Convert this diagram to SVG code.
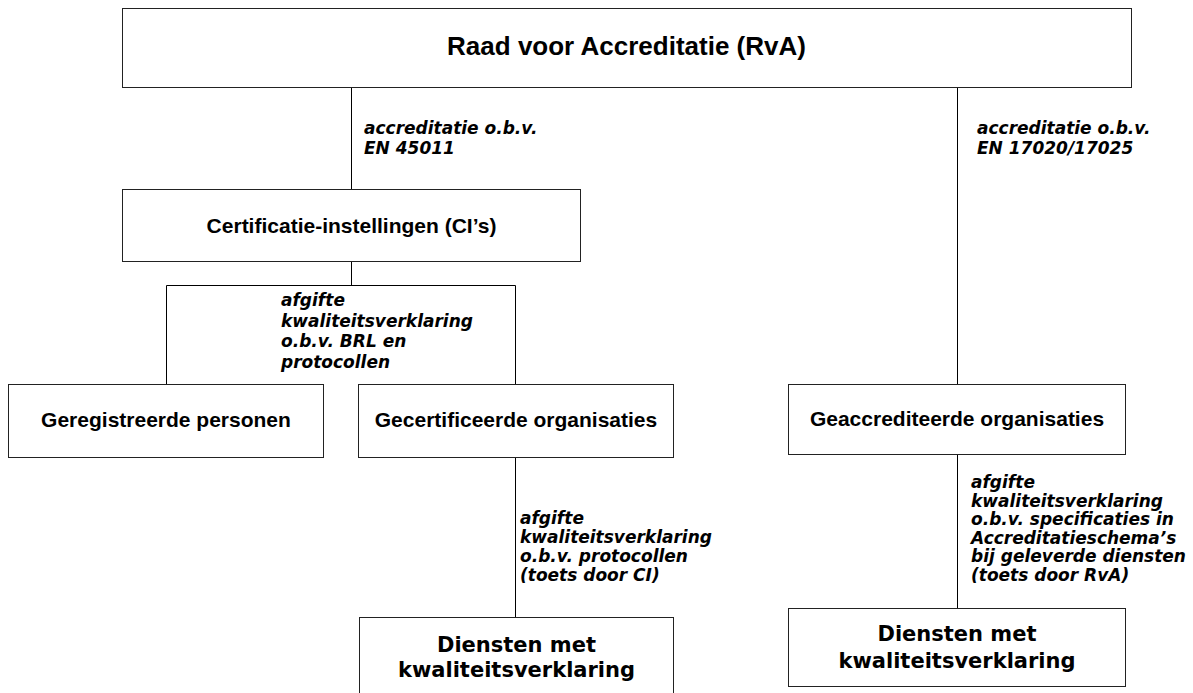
<svg xmlns="http://www.w3.org/2000/svg" width="1193" height="693" viewBox="0 0 1193 693">
<style>
.box{fill:#fff;stroke:#222;stroke-width:1}
.con{fill:none;stroke:#000;stroke-width:1}
.t{font-family:"Liberation Sans",Arial,sans-serif;font-weight:bold;font-size:21px;fill:#000;text-anchor:middle}
.tt{font-family:"Liberation Sans",Arial,sans-serif;font-weight:bold;font-size:26px;fill:#000;text-anchor:middle}
.v{font-family:"DejaVu Sans",Verdana,sans-serif;font-weight:bold;font-size:21px;fill:#000;text-anchor:middle}
.lab{font-family:"DejaVu Sans",Verdana,sans-serif;font-weight:bold;font-style:italic;font-size:17px;fill:#000}
</style>
<rect width="1193" height="693" fill="#fff"/>
<g id="connectors">
<path class="con" d="M351.5,88 V189"/>
<path class="con" d="M351.5,262 V285"/>
<path class="con" d="M166.5,384 V285.5 H515.5 V384"/>
<path class="con" d="M515.5,458 V617"/>
<path class="con" d="M957.5,88 V384"/>
<path class="con" d="M957.5,455 V608"/>
</g>
<g id="labels">
<text class="lab" x="364" y="134">accreditatie o.b.v.</text>
<text class="lab" x="364" y="154">EN 45011</text>
<text class="lab" x="977" y="134">accreditatie o.b.v.</text>
<text class="lab" x="977" y="154">EN 17020/17025</text>
<text class="lab" x="281" y="306">afgifte</text>
<text class="lab" x="281" y="326.5">kwaliteitsverklaring</text>
<text class="lab" x="281" y="347">o.b.v. BRL en</text>
<text class="lab" x="281" y="367.5">protocollen</text>
<text class="lab" x="520" y="524">afgifte</text>
<text class="lab" x="520" y="543">kwaliteitsverklaring</text>
<text class="lab" x="520" y="562">o.b.v. protocollen</text>
<text class="lab" x="520" y="581">(toets door CI)</text>
<text class="lab" x="971" y="488">afgifte</text>
<text class="lab" x="971" y="506.5">kwaliteitsverklaring</text>
<text class="lab" x="971" y="525">o.b.v. specificaties in</text>
<text class="lab" x="971" y="543.5">Accreditatieschema’s</text>
<text class="lab" x="971" y="562">bij geleverde diensten</text>
<text class="lab" x="971" y="580.5">(toets door RvA)</text>
</g>
<g id="rva">
<rect class="box" x="122.5" y="8.5" width="1009" height="79"/>
<text class="tt" x="626.5" y="55">Raad voor Accreditatie (RvA)</text>
</g>
<g id="ci">
<rect class="box" x="122.5" y="189.5" width="458" height="72"/>
<text class="t" x="351.5" y="233">Certificatie-instellingen (CI’s)</text>
</g>
<g id="personen">
<rect class="box" x="8.5" y="384.5" width="315" height="73"/>
<text class="t" x="166" y="427">Geregistreerde personen</text>
</g>
<g id="gecertificeerd">
<rect class="box" x="358.5" y="384.5" width="315" height="73"/>
<text class="t" x="516" y="427">Gecertificeerde organisaties</text>
</g>
<g id="geaccrediteerd">
<rect class="box" x="788.5" y="384.5" width="337" height="70"/>
<text class="t" x="957" y="426">Geaccrediteerde organisaties</text>
</g>
<g id="diensten1">
<rect class="box" x="359.5" y="617.5" width="314" height="90"/>
<text class="v" x="516.5" y="652">Diensten met</text>
<text class="v" x="516.5" y="677">kwaliteitsverklaring</text>
</g>
<g id="diensten2">
<rect class="box" x="788.5" y="608.5" width="337" height="78"/>
<text class="v" x="957" y="641">Diensten met</text>
<text class="v" x="957" y="668">kwaliteitsverklaring</text>
</g>
</svg>
